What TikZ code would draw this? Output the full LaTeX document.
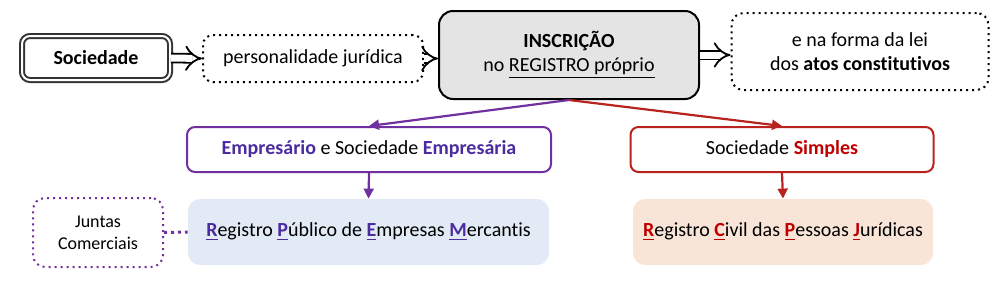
\documentclass[tikz,border=0pt]{standalone}
\usepackage{fontspec}
\setmainfont{Carlito}[Ligatures={NoCommon,NoContextual}]
\usetikzlibrary{calc, positioning, arrows.meta}

\definecolor{empcol}{HTML}{7030A0}
\definecolor{emptxt}{HTML}{4B2CA0}
\definecolor{simcol}{HTML}{B8231E}
\definecolor{simtxt}{HTML}{C00000}
\definecolor{empfill}{HTML}{E1EAF5}
\definecolor{simfill}{HTML}{F8E5D8}
\definecolor{inscfill}{HTML}{E4E4E4}

\newcommand{\empl}[1]{\textcolor{emptxt}{\textbf{\underline{#1}}}}
\newcommand{\siml}[1]{\textcolor{simtxt}{\textbf{\underline{#1}}}}

\begin{document}
\begin{tikzpicture}[x=0.5pt, y=-0.5pt,
        box/.style={rectangle, align=center, rounded corners=5pt, inner sep=2pt},
        dotbox/.style={box, draw, dotted, line width=1pt},
        blockarrow/.style={double, double distance=3.5pt, line width=0.9pt, -{Implies}},
        arrow/.style={-{Triangle[length=5pt, width=5pt]}, line width=1.1pt}
    ]
        \useasboundingbox (0,0) rectangle (1000,284);

        % Top row
        \node[box, draw=black!80, double, double distance=1pt, line width=1pt, minimum width=74pt, minimum height=22pt, rounded corners=4pt] (soc) at (96,58) {\textbf{Sociedade}};
        \node[dotbox, minimum width=110pt, minimum height=23.5pt] (pers) at (313,58.5) {personalidade jurídica};
        \node[box, draw, line width=1pt, fill=inscfill, minimum width=130pt, minimum height=44pt, rounded corners=7pt] (insc) at (569,55) {\textbf{INSCRIÇÃO}\\no \underline{REGISTRO próprio}};
        \node[dotbox, minimum width=128.5pt, minimum height=38.5pt, rounded corners=6pt] (forma) at (860,51.5) {e na forma da lei\\dos \textbf{atos constitutivos}};

        \draw[blockarrow] (soc.east) -- (pers.west);
        \draw[blockarrow] (pers.east) -- (insc.west |- pers.east);
        \draw[blockarrow] (insc.east) -- (forma.west |- insc.east);

        % Second row
        \node[box, draw=empcol, line width=1pt, minimum width=182pt, minimum height=22.5pt, rounded corners=4pt] (empr) at (369,149.5) {\textcolor{emptxt}{\textbf{Empresário}} e Sociedade \textcolor{emptxt}{\textbf{Empresária}}};
        \node[box, draw=simcol, line width=1pt, minimum width=151.5pt, minimum height=22.5pt, rounded corners=4pt] (simp) at (782,149.5) {Sociedade \textcolor{simtxt}{\textbf{Simples}}};

        \draw[arrow, empcol] (insc.south) -- (empr.north);
        \draw[arrow, simcol] (insc.south) -- (simp.north);

        % Registries
        \node[box, fill=empfill, minimum width=180.5pt, minimum height=33pt, rounded corners=6pt] (rpem) at (368.5,232) {\empl{R}egistro \empl{P}úblico de \empl{E}mpresas \empl{M}ercantis};
        \node[box, fill=simfill, minimum width=150pt, minimum height=33pt, rounded corners=6pt] (rcpj) at (783,232) {\siml{R}egistro \siml{C}ivil das \siml{P}essoas \siml{J}urídicas};
        \node[dotbox, draw=empcol, minimum width=65pt, minimum height=34.5pt, rounded corners=6pt, font=\small] (junt) at (98,232.5) {Juntas\\Comerciais};

        \draw[arrow, empcol] (empr.south) -- (rpem.north);
        \draw[arrow, simcol] (simp.south) -- (rcpj.north);
        \draw[empcol, dotted, line width=1.5pt] (junt.east) -- (rpem.west);

    \end{tikzpicture}
\end{document}
